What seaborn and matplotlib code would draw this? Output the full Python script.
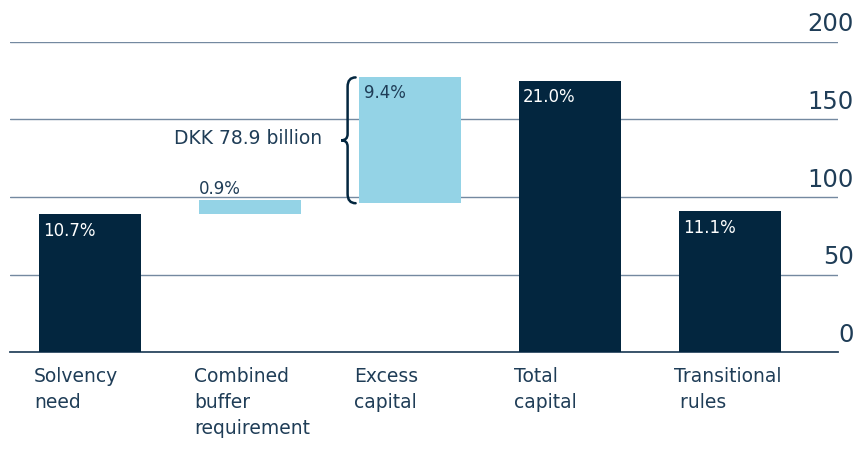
import numpy as np
import pandas as pd
import matplotlib
matplotlib.use("Agg")
import matplotlib.pyplot as plt
import matplotlib.transforms as mtransforms
from matplotlib.path import Path
from matplotlib.patches import PathPatch
import seaborn as sns

### values (DKK billion)
categories = ["Solvency\nneed", "Combined\nbuffer\nrequirement", "Excess\ncapital",
              "Total\ncapital", "Transitional\n rules"]
bar_bottom = [0, 89, 96, 0, 0]
bar_height = [89, 9, 81, 175, 91]
pct_labels = ["10.7%", "0.9%", "9.4%", "21.0%", "11.1%"]
is_total = [True, False, False, True, True]
excess_text = "DKK 78.9 billion"
y_ticks = [0, 50, 100, 150, 200]

NAVY = "#03263f"
LIGHT = "#94d3e6"
TEXT = "#1f3d57"
GRID = "#7489a0"
BAR_W = 0.64

sns.set_theme(style="white")
plt.rcParams["font.family"] = ["DejaVu Sans"]

df = pd.DataFrame({"cat": categories, "height": bar_height})

fig = plt.figure(figsize=(8.54, 4.52), dpi=100)
ax = fig.add_axes([10/854, 98.7/452, 828/854, 310.6/452])

sns.barplot(data=df, x="cat", y="height", order=categories, bottom=bar_bottom,
            width=BAR_W, errorbar=None, color=NAVY, linewidth=0, ax=ax, zorder=3)
for p, tot in zip(ax.patches, is_total):
    p.set_facecolor(NAVY if tot else LIGHT)

ax.set_xlim(-0.5, 4.675)
ax.set_ylim(0, 200)
ax.set_yticks(y_ticks)
ax.set_yticklabels([])
ax.tick_params(axis="y", length=0)
ax.grid(axis="y", color=GRID, linewidth=1.0, zorder=0)
ax.set_axisbelow(True)
for s in ["top", "right", "left"]:
    ax.spines[s].set_visible(False)
ax.spines["bottom"].set_color("#2a4760")
ax.spines["bottom"].set_linewidth(1.3)
ax.set_xlabel("")
ax.set_ylabel("")

### y tick labels sit above the gridlines at the right edge
ytr = mtransforms.blended_transform_factory(ax.transAxes, ax.transData)
for v in y_ticks:
    ax.text(1.019, v + 4, str(v), transform=ytr, ha="right", va="bottom",
            fontsize=17.5, color=TEXT, clip_on=False)

### x labels, left aligned at bar edge
ax.set_xticks(range(len(categories)))
ax.set_xticklabels(categories, ha="left", va="top", fontsize=13.5, color=TEXT,
                   linespacing=1.45)
ax.tick_params(axis="x", length=0, pad=10)
shift = mtransforms.ScaledTranslation(-0.56, 0, fig.dpi_scale_trans)
for lbl in ax.get_xticklabels():
    lbl.set_transform(lbl.get_transform() + shift)

### percentage labels
for i, (b, h, t, tot) in enumerate(zip(bar_bottom, bar_height, pct_labels, is_total)):
    top = b + h
    if tot:
        ax.annotate(t, (i - BAR_W / 2, top), xytext=(3, -5), textcoords="offset points",
                    ha="left", va="top", color="white", fontsize=12, zorder=4)
    elif h < 20:
        ax.annotate(t, (i - BAR_W / 2, top), xytext=(0, 2), textcoords="offset points",
                    ha="left", va="bottom", color=TEXT, fontsize=12, zorder=4)
    else:
        ax.annotate(t, (i - BAR_W / 2, top), xytext=(4, -4), textcoords="offset points",
                    ha="left", va="top", color=TEXT, fontsize=12, zorder=4)

### curly brace left of the excess capital bar
lo = bar_bottom[2]
hi = bar_bottom[2] + bar_height[2]
mid = (lo + hi) / 2
xl = 2 - BAR_W / 2
xb = xl - 0.07
verts = [(xl - 0.02, hi), (xb, hi), (xb, hi - 6),
         (xb, mid + 4), (xb, mid), (xb - 0.04, mid),
         (xb, mid), (xb, mid - 4),
         (xb, lo + 6), (xb, lo), (xl - 0.02, lo)]
codes = [Path.MOVETO, Path.CURVE3, Path.CURVE3,
         Path.LINETO, Path.CURVE3, Path.CURVE3,
         Path.CURVE3, Path.CURVE3,
         Path.LINETO, Path.CURVE3, Path.CURVE3]
ax.add_patch(PathPatch(Path(verts, codes), fill=False, edgecolor=NAVY,
                       linewidth=1.8, capstyle="round", zorder=4))
ax.text(xb - 0.16, mid + 2, excess_text, ha="right", va="center",
        fontsize=13.5, color=TEXT)

fig.savefig("out.png", dpi=100)
